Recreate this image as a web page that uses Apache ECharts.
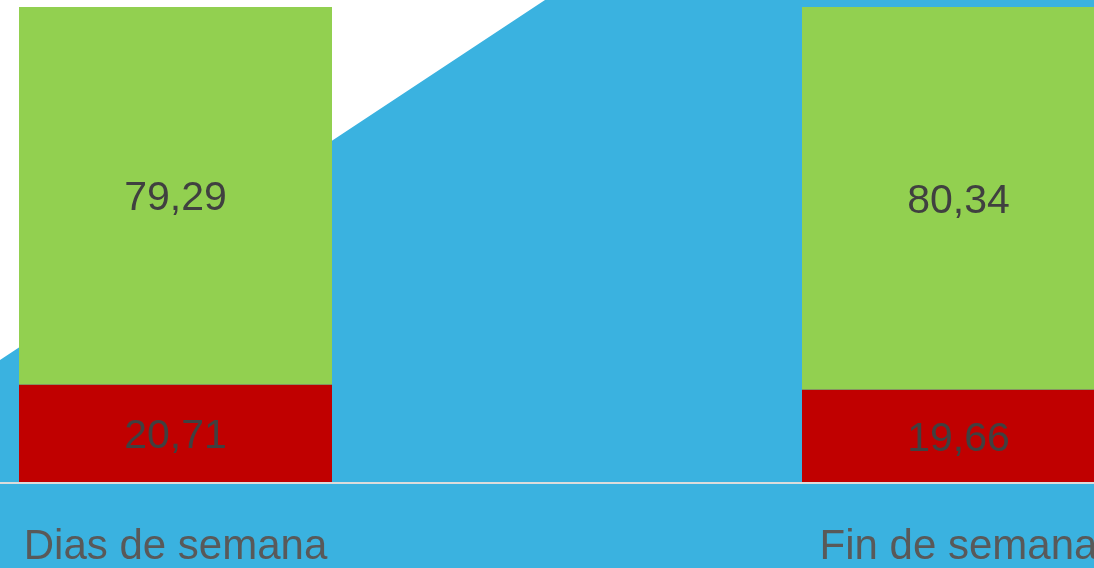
<!DOCTYPE html>
<html>
<head>
<meta charset="utf-8">
<style>
  html, body { margin: 0; padding: 0; background: #ffffff; overflow: hidden; width: 1094px; height: 568px; position: relative; }
  /* the plot is wider than the page; its outer parts fall off the edges */
  #chart { position: absolute; left: -216px; top: 0; width: 1566px; height: 568px; }
</style>
<script src="https://cdn.jsdelivr.net/npm/echarts@6/dist/echarts.min.js"></script>
</head>
<body>
<div id="chart"></div>
<script>
// Share of each group per day type (percent)
const categories = ['Dias de semana', 'Fin de semana'];
const redValues = [20.71, 19.66];
const greenValues = [79.29, 80.34];

const fmt = p => p.value.toFixed(2).replace('.', ',');

const chart = echarts.init(document.getElementById('chart'), null, { renderer: 'canvas' });

const labelStyle = {
  show: true,
  position: 'inside',
  offset: [0, 3],
  color: '#404040',
  fontSize: 41,
  fontFamily: '"Liberation Sans", Arial, sans-serif',
  formatter: fmt
};

chart.setOption({
  backgroundColor: '#ffffff',
  animation: false,
  graphic: [{
    type: 'polygon',
    z: -10,
    silent: true,
    shape: { points: [[216, 360], [761, 0], [1566, 0], [1566, 568], [0, 568], [0, 360]] },
    style: { fill: '#3AB2E0' }
  }],
  grid: { left: 0, right: 0, top: 7, bottom: 85, containLabel: false },
  xAxis: {
    type: 'category',
    data: categories,
    z: 5,
    axisTick: { show: false },
    axisLine: { lineStyle: { color: '#dcdcdc', width: 2 } },
    axisLabel: {
      color: '#595959',
      fontSize: 42,
      margin: 43,
      fontFamily: '"Liberation Sans", Arial, sans-serif'
    }
  },
  yAxis: {
    type: 'value',
    min: 0,
    max: 100,
    show: false,
    splitLine: { show: false }
  },
  series: [
    {
      name: 'rojo',
      type: 'bar',
      stack: 'total',
      barWidth: 313,
      data: redValues,
      itemStyle: { color: '#C00000' },
      label: labelStyle
    },
    {
      name: 'verde',
      type: 'bar',
      stack: 'total',
      barWidth: 313,
      data: greenValues,
      itemStyle: { color: '#92D050' },
      label: labelStyle
    }
  ]
});
</script>
</body>
</html>
